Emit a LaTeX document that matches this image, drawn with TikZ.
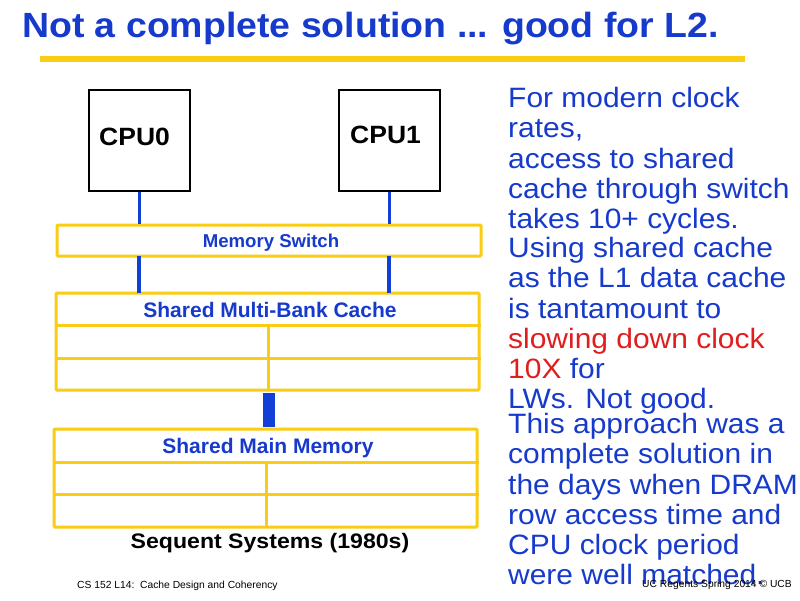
\documentclass[tikz,border=0pt]{standalone}
\usepackage{fontspec}
\setmainfont{Liberation Sans}
\newfontfamily\titlefont[FakeStretch=1.07]{Liberation Sans}
\newfontfamily\rightfont[FakeStretch=1.07]{Liberation Sans}
\newfontfamily\cpufont[FakeStretch=1.06]{Liberation Sans}
\newfontfamily\seqfont[FakeStretch=1.1]{Liberation Sans}
\definecolor{tblue}{RGB}{22,58,204}
\definecolor{lblue}{RGB}{18,64,214}
\definecolor{tred}{RGB}{224,30,30}
\definecolor{tyel}{RGB}{250,204,20}
\tikzset{
  cpubox/.style={draw=black,line width=2pt,inner sep=0pt},
  ybox/.style={draw=tyel,line width=3pt,inner sep=0pt,rounded corners=1pt},
  yline/.style={draw=tyel,line width=3pt},
  link/.style={draw=lblue,line width=3.5pt},
  biglink/.style={draw=lblue,line width=12pt},
  rtext/.style={anchor=base west,inner sep=0pt,text=tblue,font=\rightfont\fontsize{28}{30}\selectfont},
  boxlabel/.style={anchor=base,inner sep=0pt,text=tblue,font=\fontsize{21}{23}\selectfont\bfseries},
  cputext/.style={anchor=base west,inner sep=0pt,font=\cpufont\fontsize{25}{27}\selectfont\bfseries},
  small/.style={anchor=base west,inner sep=0pt,font=\fontsize{10.3}{12}\selectfont}
}
\begin{document}
\begin{tikzpicture}[x=1pt,y=-1pt]
\useasboundingbox (0,0) rectangle (800,600);
\fill[white] (0,0) rectangle (800,600);
% title
\node[anchor=base west,inner sep=0pt,text=tblue,font=\titlefont\fontsize{35}{37}\selectfont\bfseries] (title) at (22,37) {Not a complete solution ... good for L2.};
\fill[tyel] (40,56) rectangle (745,62);
% CPUs
\node[cpubox,minimum width=101pt,minimum height=101pt] (cpu0) at (139.5,140.5) {};
\node[cpubox,minimum width=101pt,minimum height=101pt] (cpu1) at (389.5,140.5) {};
\node[cputext] (c0t) at (99,145) {CPU0};
\node[cputext] (c1t) at (350,143) {CPU1};
% switch
\node[ybox,minimum width=424pt,minimum height=31pt] (sw) at (269,240.5) {};
\node[boxlabel,font=\fontsize{18.6}{20}\selectfont\bfseries] (swt) at (271,247) {Memory Switch};
% cache
\node[ybox,minimum width=423pt,minimum height=97pt] (cache) at (267.5,341.5) {};
\draw[yline] (cache.west |- 0,325) -- (cache.east |- 0,325);
\draw[yline] (cache.west |- 0,358) -- (cache.east |- 0,358);
\draw[yline] (268,325) -- (268,390);
\node[boxlabel] (cachet) at (270,317) {Shared Multi-Bank Cache};
% memory
\node[ybox,minimum width=423pt,minimum height=98pt] (mem) at (265.5,478) {};
\draw[yline] (mem.west |- 0,462) -- (mem.east |- 0,462);
\draw[yline] (mem.west |- 0,494) -- (mem.east |- 0,494);
\draw[yline] (266,462) -- (266,527);
\node[boxlabel] (memt) at (268,453) {Shared Main Memory};
% links
\draw[link] (cpu0.south) -- (cpu0.south |- sw.north);
\draw[link] (cpu1.south) -- (cpu1.south |- sw.north);
\draw[link] (139,256) -- (139,293);
\draw[link] (389,256) -- (389,293);
\draw[biglink] (268.5,393) -- (268.5,427);
% captions
\node[anchor=base,inner sep=0pt,font=\seqfont\fontsize{21}{23}\selectfont\bfseries] (seq) at (270,548) {Sequent Systems (1980s)};
\node[small] (foot) at (77,588) {CS 152 L14:\ \ Cache Design and Coherency};
% right text
\node[rtext] (r1) at (508,107) {For modern clock};
\node[rtext] (r2) at (508,137) {rates,};
\node[rtext] (r3) at (508,168) {access to shared};
\node[rtext] (r4) at (508,198) {cache through switch};
\node[rtext] (r5) at (508,228) {takes 10+ cycles.};
\node[rtext] (r6) at (508,257) {Using shared cache};
\node[rtext] (r7) at (508,287) {as the L1 data cache};
\node[rtext] (r8) at (508,318) {is tantamount to};
\node[rtext,text=tred] (r9) at (508,348) {slowing down clock};
\node[rtext] (r10) at (508,378) {\textcolor{tred}{10X} for};
\node[rtext] (r11) at (508,408) {LWs. Not good.};
\node[rtext] (r12) at (508,433) {This approach was a};
\node[rtext] (r13) at (508,463) {complete solution in};
\node[rtext] (r14) at (508,494) {the days when DRAM};
\node[rtext] (r15) at (508,524) {row access time and};
\node[rtext] (r16) at (508,554) {CPU clock period};
\node[rtext] (r17) at (508,584) {were well matched.};
\node[small] (ucb) at (642,587) {UC Regents Spring 2014 © UCB};
\end{tikzpicture}
\end{document}
